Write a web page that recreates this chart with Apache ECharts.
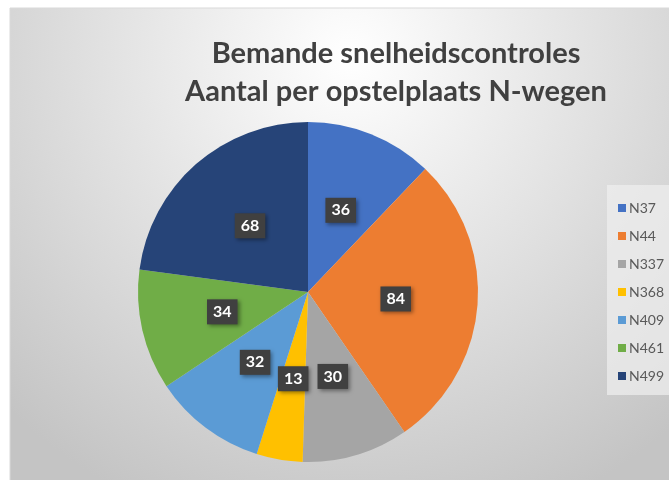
<!DOCTYPE html>
<html>
<head>
<meta charset="utf-8">
<script src="https://cdn.jsdelivr.net/npm/echarts@6/dist/echarts.min.js"></script>
<style>
html, body { margin: 0; padding: 0; background: #fff; }
#view { width: 669px; height: 480px; }
</style>
</head>
<body>
<div id="view"></div>
<script>
var myChart = echarts.init(document.getElementById('view'));

var wegen = ['N37', 'N44', 'N337', 'N368', 'N409', 'N461', 'N499'];
var aantal = [36, 84, 30, 13, 32, 34, 68];
var kleuren = ['#4472C4', '#ED7D31', '#A5A5A5', '#FFC000', '#5B9BD5', '#70AD47', '#264478'];

var pieData = [];
for (var i = 0; i < wegen.length; i++) {
    pieData.push({
        name: wegen[i],
        value: aantal[i],
        itemStyle: { color: kleuren[i] }
    });
}

var option = {
    backgroundColor: '#fff',
    graphic: [
        {
            type: 'rect',
            z: -10,
            shape: { x: 10, y: 8, width: 680, height: 490 },
            style: {
                fill: new echarts.graphic.RadialGradient(0.5, 0.1, 1.0, [
                    { offset: 0, color: '#ffffff' },
                    { offset: 1, color: '#c4c4c4' }
                ]),
                stroke: '#d9d9d9',
                lineWidth: 1
            }
        },
        {
            type: 'rect',
            z: -5,
            shape: { x: 607, y: 185, width: 62, height: 210 },
            style: { fill: 'rgba(240,240,240,0.7)' }
        }
    ],
    title: {
        text: 'Bemande snelheidscontroles\nAantal per opstelplaats N-wegen',
        left: 391,
        textAlign: 'center',
        top: 30,
        textStyle: {
            fontFamily: 'Lato',
            fontWeight: 'bold',
            fontSize: 29,
            lineHeight: 38,
            color: '#404040'
        }
    },
    legend: {
        orient: 'vertical',
        left: 613,
        top: 196,
        itemGap: 14,
        itemWidth: 8,
        itemHeight: 8,
        icon: 'rect',
        textStyle: {
            fontFamily: 'Lato',
            fontSize: 14,
            color: '#595959',
            padding: [0, 0, 0, -2]
        },
        data: wegen
    },
    series: [{
        type: 'pie',
        center: [308, 292],
        radius: [0, 170],
        startAngle: 90,
        clockwise: true,
        animation: false,
        label: {
            show: true,
            position: 'inside',
            formatter: '{c}',
            color: '#fff',
            fontFamily: 'Lato',
            fontWeight: 'bold',
            fontSize: 16,
            backgroundColor: '#404040',
            padding: [5, 6, 4, 6],
            shadowColor: 'rgba(0,0,0,0.4)',
            shadowBlur: 4,
            shadowOffsetX: 2,
            shadowOffsetY: 2
        },
        labelLine: { show: false },
        data: pieData
    }]
};

myChart.setOption(option);
</script>
</body>
</html>
